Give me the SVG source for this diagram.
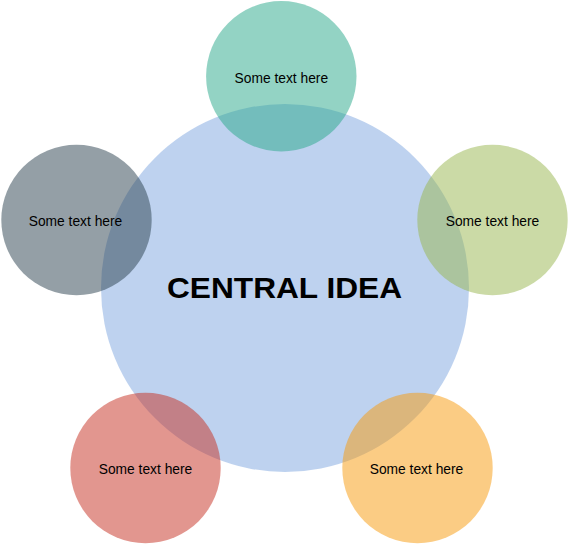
<svg xmlns="http://www.w3.org/2000/svg" width="569" height="544" viewBox="0 0 569 544">
<style>
.c{fill-opacity:0.5;stroke:none}
.t{font-family:"Liberation Sans",Arial,sans-serif;font-size:13.8px;fill:#000;text-anchor:middle}
.h{font-family:"Liberation Sans",Arial,sans-serif;font-size:30px;font-weight:bold;fill:#000;text-anchor:middle}
</style>
<rect width="569" height="544" fill="#ffffff"/>
<g id="central">
<circle class="c" cx="285" cy="288" r="184" fill="#7EA6E0"/>
<text class="h" x="284.5" y="298" textLength="235" lengthAdjust="spacingAndGlyphs">CENTRAL IDEA</text>
</g>
<g id="top">
<circle class="c" cx="281.3" cy="76.3" r="75.2" fill="#27A789"/>
<text class="t" x="281.3" y="82.5">Some text here</text>
</g>
<g id="left">
<circle class="c" cx="76.5" cy="220" r="75.2" fill="#293F4D"/>
<text class="t" x="75.5" y="226">Some text here</text>
</g>
<g id="right">
<circle class="c" cx="492.5" cy="220" r="75.2" fill="#97B54D"/>
<text class="t" x="492.5" y="226">Some text here</text>
</g>
<g id="bottom-left">
<circle class="c" cx="145.5" cy="468" r="75.2" fill="#C52D1F"/>
<text class="t" x="145.5" y="474">Some text here</text>
</g>
<g id="bottom-right">
<circle class="c" cx="417.5" cy="468" r="75.2" fill="#F79909"/>
<text class="t" x="416.5" y="474">Some text here</text>
</g>
<g id="connectors"></g>
</svg>
